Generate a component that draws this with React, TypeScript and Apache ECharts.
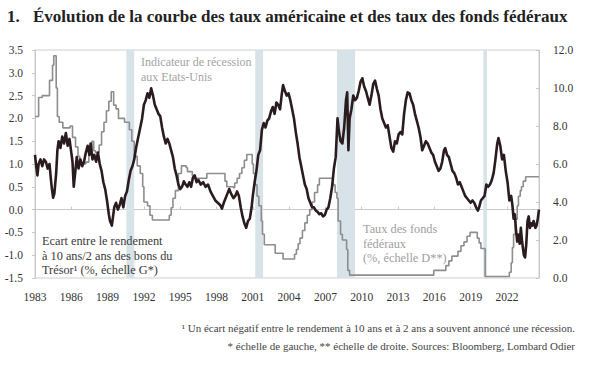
import React, { useEffect, useRef } from "react";
import * as echarts from "echarts";

// Spread 10y-2y (left axis, %)
const spreadYears = [
  1983.0, 1983.1, 1983.2, 1983.3, 1983.45, 1983.6, 1983.75, 1983.9, 1984.05, 1984.2,
  1984.3, 1984.4, 1984.5, 1984.6, 1984.75, 1984.85, 1984.95, 1985.1, 1985.25, 1985.4,
  1985.55, 1985.7, 1985.85, 1986.0, 1986.1, 1986.2, 1986.3, 1986.45, 1986.6, 1986.75,
  1986.9, 1987.05, 1987.2, 1987.35, 1987.5, 1987.6, 1987.75, 1987.9, 1988.05, 1988.2,
  1988.35, 1988.5, 1988.65, 1988.8, 1988.95, 1989.1, 1989.2, 1989.35, 1989.45, 1989.55,
  1989.7, 1989.85, 1990.0, 1990.15, 1990.3, 1990.45, 1990.6, 1990.75, 1990.9, 1991.05,
  1991.2, 1991.35, 1991.5, 1991.7, 1991.85, 1992.0, 1992.15, 1992.3, 1992.45, 1992.6,
  1992.75, 1992.9, 1993.05, 1993.2, 1993.35, 1993.5, 1993.65, 1993.8, 1993.95, 1994.1,
  1994.25, 1994.4, 1994.55, 1994.7, 1994.85, 1995.0, 1995.15, 1995.3, 1995.45, 1995.6,
  1995.75, 1995.9, 1996.05, 1996.2, 1996.35, 1996.5, 1996.7, 1996.9, 1997.1, 1997.3,
  1997.5, 1997.7, 1997.9, 1998.1, 1998.3, 1998.45, 1998.6, 1998.75, 1998.9, 1999.05,
  1999.2, 1999.4, 1999.55, 1999.7, 1999.85, 2000.0, 2000.15, 2000.3, 2000.45, 2000.6,
  2000.75, 2000.9, 2001.0, 2001.15, 2001.3, 2001.45, 2001.6, 2001.75, 2001.9, 2002.05,
  2002.2, 2002.35, 2002.5, 2002.65, 2002.8, 2002.95, 2003.1, 2003.25, 2003.4, 2003.5,
  2003.65, 2003.8, 2003.95, 2004.1, 2004.25, 2004.4, 2004.55, 2004.7, 2004.85, 2005.0,
  2005.15, 2005.3, 2005.45, 2005.6, 2005.75, 2005.9, 2006.05, 2006.2, 2006.35, 2006.5,
  2006.65, 2006.8, 2006.95, 2007.1, 2007.25, 2007.4, 2007.55, 2007.7, 2007.85, 2008.0,
  2008.1, 2008.25, 2008.4, 2008.55, 2008.7, 2008.8, 2008.9, 2009.0, 2009.15, 2009.3,
  2009.45, 2009.6, 2009.75, 2009.9, 2010.05, 2010.2, 2010.35, 2010.5, 2010.65, 2010.8,
  2010.95, 2011.1, 2011.25, 2011.4, 2011.55, 2011.7, 2011.85, 2012.0, 2012.15, 2012.3,
  2012.45, 2012.6, 2012.75, 2012.9, 2013.05, 2013.2, 2013.35, 2013.5, 2013.65, 2013.8,
  2013.95, 2014.1, 2014.25, 2014.4, 2014.55, 2014.7, 2014.85, 2015.0, 2015.15, 2015.3,
  2015.45, 2015.6, 2015.75, 2015.9, 2016.05, 2016.2, 2016.35, 2016.5, 2016.65, 2016.8,
  2016.9, 2017.05, 2017.2, 2017.35, 2017.5, 2017.65, 2017.8, 2017.95, 2018.1, 2018.25,
  2018.4, 2018.55, 2018.7, 2018.85, 2019.0, 2019.15, 2019.3, 2019.45, 2019.6, 2019.7,
  2019.85, 2020.0, 2020.15, 2020.3, 2020.45, 2020.6, 2020.75, 2020.9, 2021.05, 2021.2,
  2021.3, 2021.45, 2021.6, 2021.75, 2021.9, 2022.05, 2022.2, 2022.35, 2022.45, 2022.55,
  2022.65, 2022.75, 2022.85, 2022.95, 2023.05, 2023.15, 2023.25, 2023.4, 2023.5, 2023.6,
  2023.7, 2023.8, 2023.9, 2024.0, 2024.1, 2024.2, 2024.35, 2024.45, 2024.55, 2024.65,
];
const spreadValues = [
  1.2, 0.95, 0.75, 1.0, 1.1, 0.95, 1.1, 1.05, 0.9, 1.0,
  0.7, 0.45, 0.26, 0.35, 0.8, 1.3, 1.5, 1.35, 1.6, 1.45,
  1.68, 1.4, 1.55, 1.25, 1.05, 0.5, 0.75, 1.15, 0.9, 1.1,
  0.95, 1.05, 1.25, 1.4, 1.2, 1.45, 1.1, 1.2, 1.05, 1.25,
  1.0, 0.85, 0.6, 0.45, 0.2, -0.1, -0.25, -0.35, -0.15, 0.05,
  0.15, 0.0, 0.1, 0.25, 0.05, 0.3, 0.4, 0.65, 0.85, 0.95,
  1.1, 1.35, 1.55, 1.8, 2.0, 2.3, 2.4, 2.55, 2.45, 2.66,
  2.5, 2.3, 2.2, 2.1, 2.05, 1.8, 1.6, 1.45, 1.55, 1.45,
  1.3, 1.15, 0.9, 0.75, 0.55, 0.45, 0.5, 0.62, 0.55, 0.5,
  0.6, 0.5, 0.7, 0.75, 0.6, 0.65, 0.55, 0.6, 0.5, 0.55,
  0.4, 0.3, 0.2, 0.15, 0.1, 0.02, 0.15, 0.25, 0.35, 0.45,
  0.35, 0.25, 0.3, 0.4, 0.3, 0.05, -0.15, -0.3, -0.4, -0.25,
  -0.2, 0.05, 0.3, 0.6, 0.85, 1.2, 1.3, 1.75, 1.9, 1.8,
  1.95, 2.0, 2.15, 2.25, 2.1, 2.35, 2.3, 2.2, 2.55, 2.73,
  2.6, 2.5, 2.55, 2.4, 2.2, 2.0, 1.7, 1.45, 1.15, 0.95,
  0.75, 0.55, 0.45, 0.25, 0.15, 0.05, 0.05, -0.02, -0.05, -0.1,
  -0.08, -0.15, -0.12, 0.0, 0.05, 0.25, 0.5, 0.9, 1.15, 2.0,
  1.75, 1.5, 1.45, 1.8, 2.4, 2.57, 1.3, 2.0, 2.2, 2.5,
  2.4, 2.45, 2.6, 2.8, 2.88, 2.7, 2.6, 2.45, 2.3, 2.5,
  2.75, 2.83, 2.65, 2.5, 2.2, 2.0, 1.9, 1.8, 1.85, 1.6,
  1.35, 1.27, 1.5, 1.45, 1.65, 1.7, 1.65, 2.1, 2.4, 2.57,
  2.55, 2.4, 2.3, 2.1, 1.95, 1.8, 1.6, 1.3, 1.4, 1.5,
  1.45, 1.35, 1.25, 1.2, 1.05, 0.95, 0.85, 0.9, 1.05, 1.3,
  1.35, 1.2, 1.15, 1.0, 0.85, 0.8, 0.7, 0.55, 0.6, 0.5,
  0.4, 0.3, 0.25, 0.2, 0.15, 0.2, 0.15, 0.05, -0.02, 0.05,
  0.2, 0.25, 0.3, 0.55, 0.5, 0.55, 0.65, 0.8, 1.1, 1.45,
  1.57, 1.4, 1.1, 1.2, 0.85, 0.6, 0.2, 0.3, 0.1, -0.2,
  -0.1, -0.45, -0.7, -0.55, -0.75, -0.4, -0.7, -1.0, -1.05, -0.75,
  -0.25, -0.15, -0.4, -0.3, -0.35, -0.25, -0.4, -0.35, -0.2, 0.0,
];

// Fed funds rate (right axis, %)
const fedYears = [
  1983.0, 1983.3, 1983.6, 1984.2, 1984.45, 1984.55, 1984.75, 1984.85, 1985.0, 1985.3,
  1985.9, 1986.1, 1986.35, 1986.55, 1986.7, 1987.2, 1987.45, 1987.7, 1987.85, 1988.0,
  1988.3, 1988.5, 1988.7, 1988.9, 1989.1, 1989.3, 1989.5, 1989.7, 1989.9, 1990.4,
  1990.8, 1991.0, 1991.2, 1991.45, 1991.7, 1991.9, 1992.0, 1992.3, 1992.5, 1992.7,
  1994.1, 1994.25, 1994.4, 1994.6, 1994.85, 1995.1, 1995.5, 1995.6, 1996.0, 1996.1,
  1997.2, 1998.7, 1998.85, 1999.4, 1999.5, 1999.7, 1999.9, 2000.1, 2000.3, 2000.5,
  2000.95, 2001.05, 2001.2, 2001.35, 2001.5, 2001.7, 2001.8, 2001.95, 2002.85, 2003.5,
  2004.45, 2004.6, 2004.75, 2004.9, 2005.1, 2005.3, 2005.5, 2005.7, 2005.9, 2006.1,
  2006.35, 2006.5, 2007.65, 2007.8, 2007.95, 2008.05, 2008.25, 2008.4, 2008.75, 2008.85,
  2009.0, 2015.95, 2016.95, 2017.2, 2017.45, 2017.95, 2018.2, 2018.45, 2018.7, 2018.95,
  2019.55, 2019.7, 2019.85, 2020.2, 2022.2, 2022.35, 2022.45, 2022.55, 2022.7, 2022.85,
  2022.95, 2023.1, 2023.2, 2023.35, 2023.55, 2024.65,
];
const fedRates = [
  8.5, 9.5, 9.6, 10.4, 11.2, 11.7, 10.0, 8.5, 8.2, 7.9,
  8.0, 7.4, 6.9, 6.4, 6.0, 6.1, 6.7, 7.2, 6.7, 6.6,
  7.0, 7.7, 8.2, 8.8, 9.3, 9.8, 9.1, 8.9, 8.4, 8.2,
  7.8, 7.2, 6.4, 5.9, 5.5, 4.8, 4.0, 3.8, 3.3, 3.05,
  3.3, 3.7, 4.2, 4.6, 5.5, 5.9, 5.8, 5.6, 5.4, 5.25,
  5.5, 5.1, 4.8, 4.75, 5.0, 5.25, 5.5, 5.8, 6.2, 6.5,
  6.0, 5.5, 4.9, 4.3, 3.8, 3.0, 2.3, 1.75, 1.3, 1.0,
  1.25, 1.5, 1.8, 2.1, 2.5, 2.9, 3.3, 3.6, 4.0, 4.5,
  4.9, 5.25, 4.9, 4.5, 4.2, 3.0, 2.3, 2.0, 1.5, 0.4,
  0.15, 0.4, 0.65, 0.9, 1.15, 1.4, 1.7, 1.9, 2.2, 2.4,
  2.1, 1.85, 1.55, 0.08, 0.3, 0.8, 1.6, 2.3, 3.1, 3.8,
  4.3, 4.6, 4.8, 5.1, 5.33, 5.33,
];

// US recessions (decimal years)
const recessionStarts = [1990.55, 2001.2, 2007.95, 2020.05];
const recessionEnds = [1991.2, 2001.85, 2009.45, 2020.35];

const xMin = 1983;
const xMax = 2024.65;
const xInterval = 3;

const SERIF = "Liberation Serif";

export default function App() {
  const ref = useRef<HTMLDivElement>(null);
  useEffect(() => {
    if (!ref.current) return;
    const chart = echarts.init(ref.current, undefined, { renderer: "svg" });
    const axisLabelStyle = { fontFamily: SERIF, fontSize: 11.5, color: "#333" };
    chart.setOption({
      animation: false,
      backgroundColor: "#fff",
      textStyle: { fontFamily: SERIF },
      grid: {
        left: 35,
        right: 54,
        top: 50,
        bottom: 88,
        show: true,
        borderColor: "#cfcfcf",
        borderWidth: 1,
      },
      xAxis: [
        {
          type: "value",
          min: xMin,
          max: xMax,
          interval: xInterval,
          position: "bottom",
          axisLine: { show: false, onZero: false },
          axisTick: { show: false },
          splitLine: { show: false },
          axisLabel: {
            ...axisLabelStyle,
            margin: 13,
            showMaxLabel: false,
            formatter: (v: number) => String(Math.round(v)),
          },
        },
        {
          type: "value",
          min: xMin,
          max: xMax,
          interval: xInterval,
          position: "bottom",
          axisLine: { show: true, onZero: true, onZeroAxisIndex: 0, lineStyle: { color: "#c8c8c8", width: 1 } },
          axisTick: { show: true, length: 3, inside: true, lineStyle: { color: "#c8c8c8" } },
          axisLabel: { show: false },
          splitLine: { show: false },
        },
      ],
      yAxis: [
        {
          type: "value",
          min: -1.5,
          max: 3.5,
          interval: 0.5,
          position: "left",
          axisLine: { show: true, lineStyle: { color: "#c8c8c8" } },
          axisTick: { show: true, length: 3, lineStyle: { color: "#c8c8c8" } },
          splitLine: { show: false },
          axisLabel: { ...axisLabelStyle, margin: 12, formatter: (v: number) => v.toFixed(1) },
        },
        {
          type: "value",
          min: 0,
          max: 12,
          interval: 2,
          position: "right",
          axisLine: { show: true, lineStyle: { color: "#c8c8c8" } },
          axisTick: { show: true, length: 3, inside: true, lineStyle: { color: "#c8c8c8" } },
          splitLine: { show: false },
          axisLabel: { ...axisLabelStyle, margin: 14, formatter: (v: number) => v.toFixed(1) },
        },
      ],
      series: [
        {
          name: "Taux des fonds fédéraux",
          type: "line",
          xAxisIndex: 0,
          yAxisIndex: 1,
          step: "end",
          symbol: "none",
          data: fedYears.map((y, i) => [y, fedRates[i]]),
          lineStyle: { color: "#8d8d8d", width: 1.6 },
          z: 3,
          markArea: {
            silent: true,
            z: 1,
            itemStyle: { color: "#d7e3e8" },
            data: recessionStarts.map((s, i) => [{ xAxis: s }, { xAxis: recessionEnds[i] }]),
          },
        },
        {
          name: "Ecart 10 ans/2 ans",
          type: "line",
          xAxisIndex: 0,
          yAxisIndex: 0,
          symbol: "none",
          data: spreadYears.map((y, i) => [y, spreadValues[i]]),
          lineStyle: { color: "#2a1c1e", width: 2.6, join: "round" },
          z: 4,
        },
      ],
      graphic: [
        {
          type: "text",
          left: 7,
          top: 8,
          z: 100,
          style: { text: "1.", fontFamily: SERIF, fontWeight: "bold", fontSize: 17, fill: "#222" },
        },
        {
          type: "text",
          left: 33,
          top: 8,
          z: 100,
          style: {
            text: "Évolution de la courbe des taux américaine et des taux des fonds fédéraux",
            fontFamily: SERIF,
            fontWeight: "bold",
            fontSize: 17,
            fill: "#222",
          },
        },
        {
          type: "text",
          left: 141,
          top: 54,
          z: 100,
          style: {
            text: "Indicateur de récession\naux Etats-Unis",
            fontFamily: SERIF,
            fontSize: 12,
            lineHeight: 15,
            fill: "#a3a3a3",
          },
        },
        {
          type: "text",
          left: 42,
          top: 234,
          z: 100,
          style: {
            text: "Ecart entre le rendement\nà 10 ans/2 ans des bons du\nTrésor¹ (%, échelle G*)",
            fontFamily: SERIF,
            fontSize: 12.3,
            lineHeight: 14.5,
            fill: "#3a3a3a",
          },
        },
        {
          type: "text",
          left: 363,
          top: 222,
          z: 100,
          style: {
            text: "Taux des fonds\nfédéraux\n(%, échelle D**)",
            fontFamily: SERIF,
            fontSize: 12.3,
            lineHeight: 14.5,
            fill: "#a0a0a0",
          },
        },
        {
          type: "text",
          right: 18,
          top: 322,
          z: 100,
          style: {
            text: "¹ Un écart négatif entre le rendement à 10 ans et à 2 ans a souvent annoncé une récession.",
            fontFamily: SERIF,
            fontSize: 11,
            fill: "#444",
          },
        },
        {
          type: "text",
          right: 18,
          top: 340,
          z: 100,
          style: {
            text: "* échelle de gauche, ** échelle de droite. Sources: Bloomberg, Lombard Odier",
            fontFamily: SERIF,
            fontSize: 11,
            fill: "#444",
          },
        },
      ],
    });
    return () => chart.dispose();
  }, []);
  return (
    <div
      ref={ref}
      style={{ position: "absolute", left: 0, top: 0, width: 593, height: 366, background: "#fff" }}
    />
  );
}
